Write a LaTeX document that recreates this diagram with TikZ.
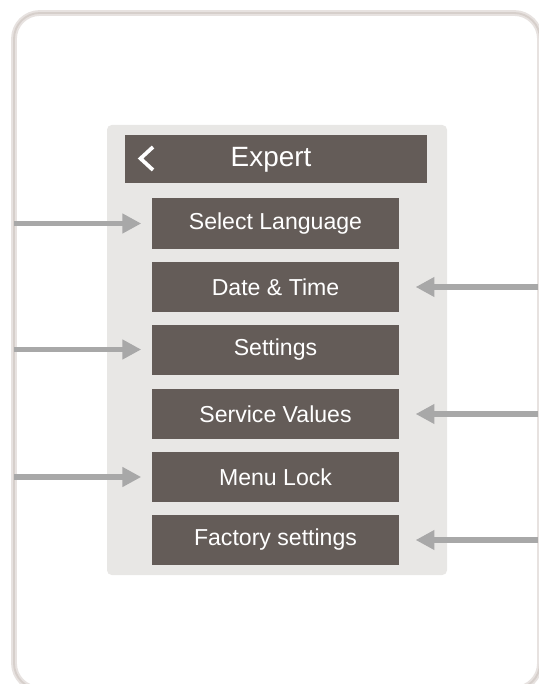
\documentclass[tikz,border=0pt]{standalone}
\usepackage{fontspec}
\setmainfont{Liberation Sans}
\usetikzlibrary{arrows.meta}
\definecolor{btngray}{RGB}{100,92,88}
\definecolor{panelgray}{RGB}{232,231,229}
\definecolor{arrowgray}{RGB}{168,168,168}
\definecolor{framegray}{RGB}{214,207,203}

\begin{document}
\begin{tikzpicture}[x=0.03cm,y=-0.03cm,
	menubtn/.style={fill=btngray, text=white, minimum width=7.41cm, minimum height=1.5cm, inner sep=0pt, font=\fontsize{19.7}{24}\selectfont},
	pointer/.style={draw=arrowgray, line width=5pt, -{Triangle[length=16pt,width=16pt]}}]
			\useasboundingbox (0,0) rectangle (538,684);
			% outer frame
			\draw[framegray!60, line width=5pt, rounded corners=22pt] (14,13) rectangle (540,689);
			\draw[framegray, line width=1.6pt, rounded corners=22pt] (14,13) rectangle (540,689);
			% menu panel
			\fill[panelgray, rounded corners=4pt] (107,125) rectangle (447,575);
			\node[fill=btngray, minimum width=9.06cm, minimum height=1.44cm, inner sep=0pt] (head) at (276,159) {};
			\node[text=white, font=\fontsize{23.8}{28}\selectfont] (title) at (271,160) {Expert};
			\draw[white, line width=3.2pt] (153,147) -- (140.5,158.5) -- (153,170);
			% menu entries
			\node[menubtn] (lang) at (275.5,223.5) {Select Language};
			\node[menubtn] (date) at (275.5,287) {Date \& Time};
			\node[menubtn] (sett) at (275.5,349.5) {Settings};
			\node[menubtn] (serv) at (275.5,414) {Service Values};
			\node[menubtn] (lock) at (275.5,477) {Menu Lock};
			\node[menubtn] (fact) at (275.5,540) {Factory settings};
			% pointers
			\coordinate (l1) at (14,223.5);
			\coordinate (l2) at (14,349.5);
			\coordinate (l3) at (14,477);
			\coordinate (r1) at (538,287);
			\coordinate (r2) at (538,414);
			\coordinate (r3) at (538,540);
			\draw[pointer, shorten >=9pt] (l1) -- (lang.west);
			\draw[pointer, shorten >=9pt] (l2) -- (sett.west);
			\draw[pointer, shorten >=9pt] (l3) -- (lock.west);
			\draw[pointer, shorten >=14pt] (r1) -- (date.east);
			\draw[pointer, shorten >=14pt] (r2) -- (serv.east);
			\draw[pointer, shorten >=14pt] (r3) -- (fact.east);
		\end{tikzpicture}
\end{document}
